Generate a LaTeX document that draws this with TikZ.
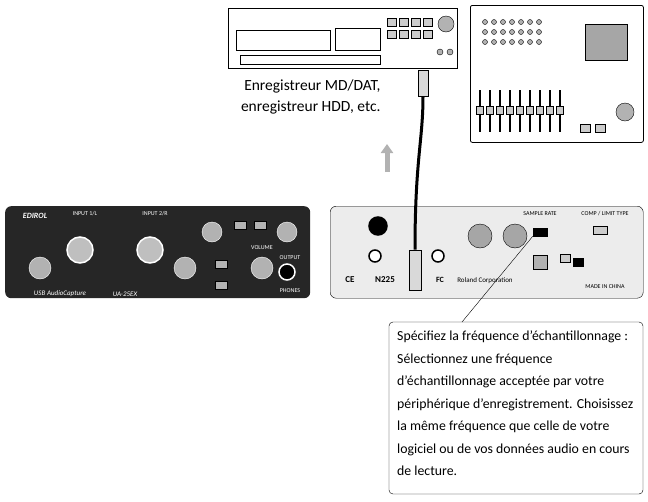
\documentclass[tikz,border=0pt]{standalone}
\usepackage{fontspec}
\setmainfont{Carlito}
\usetikzlibrary{positioning,arrows.meta}
\begin{document}
\begin{tikzpicture}[x=1pt,y=-1pt,
  dev/.style={draw=black,line width=0.8pt,fill=white},
  knob/.style={circle,draw=black,fill=gray!60,inner sep=0pt,minimum size=#1},
  jack/.style={circle,draw=black,fill=white,line width=1.5pt,inner sep=0pt,minimum size=#1},
  key/.style={draw=black,fill=gray!40,inner sep=0pt,minimum width=#1,minimum height=8pt},
  lbl/.style={font=\fontsize{6}{6}\selectfont,inner sep=0pt}]
\useasboundingbox (0,0) rectangle (648,501);
% recorder deck
\node[dev,minimum width=229pt,minimum height=60pt,anchor=north west] (deck) at (228,8) {};
\draw (236,30) rectangle (330,50) (335,28) rectangle (380,50);
\foreach \i in {0,...,3}{\node[key=9pt] at (392+\i*12,22) {}; \node[key=9pt] at (392+\i*12,34) {};}
\node[knob=16pt] (dial) at (446,24) {};
\node[knob=6pt] at (440,52) {}; \node[knob=6pt] at (450,52) {};
\draw (240,55) rectangle (380,64);
% mixer
\node[dev,minimum width=173pt,minimum height=137pt,anchor=north west,rounded corners=2pt] (mixer) at (470,5) {};
\node[draw,fill=gray!70,minimum width=42pt,minimum height=36pt,anchor=north west] (screen) at (585,24) {};
\foreach \i in {0,...,6}{\node[knob=5pt] at (485+\i*9,22) {}; \node[knob=5pt] at (485+\i*9,32) {}; \node[knob=5pt] at (485+\i*9,42) {};}
\foreach \i in {0,...,8}{\draw[line width=1.5pt] (480+\i*10,90) -- (480+\i*10,132); \node[key=7pt] at (480+\i*10,110) {};}
\node[knob=18pt] at (625,112) {};
\node[key=10pt] at (585,128) {}; \node[key=10pt] at (600,128) {};
% text and arrow
\node[align=right,font=\fontsize{15.5}{21}\selectfont,anchor=north east] (rec) at (384,76)
  {Enregistreur MD/DAT,\\enregistreur HDD, etc.};
\draw[line width=5pt,gray!60,-{Triangle[length=9pt,width=12pt]}] (387,172) -- (387,144);
% front panel
\node[fill=black!85,rounded corners=6pt,minimum width=305pt,minimum height=92pt,anchor=north west] (front) at (5,206) {};
\node[jack=26pt,fill=gray!50,draw=white] at (80,250) {};
\node[jack=26pt,fill=gray!50,draw=white] at (150,250) {};
\node[knob=22pt,draw=white] at (40,268) {};
\node[knob=22pt,draw=white] at (185,268) {};
\node[knob=20pt,draw=white] at (212,232) {};
\node[knob=22pt,draw=white] at (262,268) {};
\node[knob=20pt,draw=white] at (287,232) {};
\node[jack=16pt,draw=white,fill=black] at (287,272) {};
\foreach \x/\y in {221/264,221/285,240/225,260/225}{\node[key=12pt,fill=gray!60] at (\x,\y) {};}
\node[lbl,text=white,font=\bfseries\itshape\fontsize{8}{8}\selectfont] at (35,216) {EDIROL};
\node[lbl,text=white,font=\itshape\fontsize{7}{7}\selectfont] at (60,294) {USB AudioCapture};
\node[lbl,text=white,font=\itshape\fontsize{7}{7}\selectfont] at (125,294) {UA-25EX};
\node[lbl,text=white] at (85,214) {INPUT 1/L};
\node[lbl,text=white] at (155,214) {INPUT 2/R};
\node[lbl,text=white] at (262,248) {VOLUME};
\node[lbl,text=white] at (290,258) {OUTPUT};
\node[lbl,text=white] at (290,291) {PHONES};
% rear panel
\node[fill=gray!15,draw=black,rounded corners=6pt,minimum width=313pt,minimum height=92pt,anchor=north west] (rear) at (330,206) {};
\node[jack=18pt,fill=black] at (378,226) {};
\node[jack=12pt] at (375,256) {};
\node[jack=12pt] at (438,256) {};
\node[knob=24pt,fill=gray!70] at (480,236) {};
\node[knob=24pt,fill=gray!70] at (515,236) {};
\node[key=14pt,fill=black] (sw) at (540,232) {};
\node[key=14pt] at (600,230) {};
\node[key=10pt,fill=black] at (578,262) {};
\node[key=10pt] at (565,258) {};
\node[draw,fill=gray!60,minimum size=14pt] at (540,262) {};
\node[lbl,font=\bfseries\fontsize{9}{9}\selectfont] at (350,280) {CE};
\node[lbl,font=\bfseries\fontsize{9}{9}\selectfont] at (385,280) {N225};
\node[lbl,font=\bfseries\fontsize{8}{8}\selectfont] at (440,280) {FC};
\node[lbl,font=\fontsize{7}{7}\selectfont] at (485,281) {Roland Corporation};
\node[lbl] at (605,287) {MADE IN CHINA};
\node[lbl] at (540,214) {SAMPLE RATE};
\node[lbl] at (605,214) {COMP / LIMIT TYPE};
% optical cable
\node[draw,fill=gray!30,minimum width=10pt,minimum height=26pt,anchor=north] (plugtop) at (423,70) {};
\node[draw,fill=gray!30,minimum width=12pt,minimum height=40pt,anchor=south] (plugbot) at (415,290) {};
\draw[line width=3pt] (plugtop.south) .. controls (423,140) and (415,160) .. (plugbot.north);
% callout
\draw[rounded corners=4pt] (389,322) rectangle (643,494);
\node[align=left,anchor=north west,font=\fontsize{13.8}{22.5}\selectfont,inner sep=0pt] (note) at (397,331)
  {Spécifiez la fréquence d’échantillonnage :\\Sélectionnez une fréquence\\d’échantillonnage acceptée par votre\\périphérique d’enregistrement. Choisissez\\la même fréquence que celle de votre\\logiciel ou de vos données audio en cours\\de lecture.};
\draw (sw.south west) -- (462,322);
\end{tikzpicture}
\end{document}
